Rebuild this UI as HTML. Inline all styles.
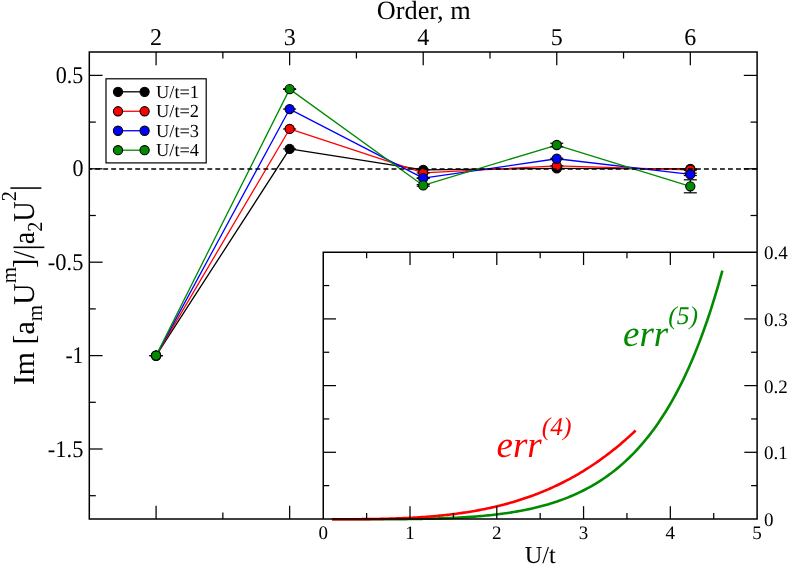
<!DOCTYPE html>
<html><head><meta charset="utf-8"><title>chart</title>
<style>
html,body{margin:0;padding:0;background:#fff;}
svg{display:block;will-change:transform;}
text{font-family:"Liberation Serif",serif;text-rendering:geometricPrecision;}
</style></head><body>
<svg width="789" height="565" viewBox="0 0 789 565">
<rect width="789" height="565" fill="#fff"/>
<polyline fill="none" stroke="#000000" stroke-width="1.3" stroke-linejoin="round" points="156.08,355.60 289.64,148.89 423.20,169.84 556.76,168.43 690.32,168.87"/>
<line x1="156.08" y1="355.60" x2="156.08" y2="355.60" stroke="#000" stroke-width="1.2" />
<line x1="149.58" y1="355.60" x2="162.58" y2="355.60" stroke="#000" stroke-width="1.2" />
<line x1="289.64" y1="148.89" x2="289.64" y2="148.89" stroke="#000" stroke-width="1.2" />
<line x1="283.14" y1="148.89" x2="296.14" y2="148.89" stroke="#000" stroke-width="1.2" />
<line x1="423.20" y1="169.84" x2="423.20" y2="169.84" stroke="#000" stroke-width="1.2" />
<line x1="416.70" y1="169.84" x2="429.70" y2="169.84" stroke="#000" stroke-width="1.2" />
<line x1="556.76" y1="168.43" x2="556.76" y2="168.43" stroke="#000" stroke-width="1.2" />
<line x1="550.26" y1="168.43" x2="563.26" y2="168.43" stroke="#000" stroke-width="1.2" />
<line x1="690.32" y1="168.87" x2="690.32" y2="168.87" stroke="#000" stroke-width="1.2" />
<line x1="683.82" y1="168.87" x2="696.82" y2="168.87" stroke="#000" stroke-width="1.2" />
<circle cx="156.08" cy="355.60" r="4.6" fill="#000000" stroke="#000" stroke-width="1.1"/>
<circle cx="289.64" cy="148.89" r="4.6" fill="#000000" stroke="#000" stroke-width="1.1"/>
<circle cx="423.20" cy="169.84" r="4.6" fill="#000000" stroke="#000" stroke-width="1.1"/>
<circle cx="556.76" cy="168.43" r="4.6" fill="#000000" stroke="#000" stroke-width="1.1"/>
<circle cx="690.32" cy="168.87" r="4.6" fill="#000000" stroke="#000" stroke-width="1.1"/>
<polyline fill="none" stroke="#ff0000" stroke-width="1.3" stroke-linejoin="round" points="156.08,355.60 289.64,128.97 423.20,172.95 556.76,165.83 690.32,169.89"/>
<line x1="156.08" y1="355.60" x2="156.08" y2="355.60" stroke="#000" stroke-width="1.2" />
<line x1="149.58" y1="355.60" x2="162.58" y2="355.60" stroke="#000" stroke-width="1.2" />
<line x1="289.64" y1="128.97" x2="289.64" y2="128.97" stroke="#000" stroke-width="1.2" />
<line x1="283.14" y1="128.97" x2="296.14" y2="128.97" stroke="#000" stroke-width="1.2" />
<line x1="423.20" y1="172.95" x2="423.20" y2="172.95" stroke="#000" stroke-width="1.2" />
<line x1="416.70" y1="172.95" x2="429.70" y2="172.95" stroke="#000" stroke-width="1.2" />
<line x1="556.76" y1="165.83" x2="556.76" y2="165.83" stroke="#000" stroke-width="1.2" />
<line x1="550.26" y1="165.83" x2="563.26" y2="165.83" stroke="#000" stroke-width="1.2" />
<line x1="690.32" y1="169.59" x2="690.32" y2="170.19" stroke="#000" stroke-width="1.2" />
<line x1="683.82" y1="169.59" x2="696.82" y2="169.59" stroke="#000" stroke-width="1.2" />
<line x1="683.82" y1="170.19" x2="696.82" y2="170.19" stroke="#000" stroke-width="1.2" />
<circle cx="156.08" cy="355.60" r="4.6" fill="#ff0000" stroke="#000" stroke-width="1.1"/>
<circle cx="289.64" cy="128.97" r="4.6" fill="#ff0000" stroke="#000" stroke-width="1.1"/>
<circle cx="423.20" cy="172.95" r="4.6" fill="#ff0000" stroke="#000" stroke-width="1.1"/>
<circle cx="556.76" cy="165.83" r="4.6" fill="#ff0000" stroke="#000" stroke-width="1.1"/>
<circle cx="690.32" cy="169.89" r="4.6" fill="#ff0000" stroke="#000" stroke-width="1.1"/>
<polyline fill="none" stroke="#0000ff" stroke-width="1.3" stroke-linejoin="round" points="156.08,355.60 289.64,109.06 423.20,178.15 556.76,158.76 690.32,174.34"/>
<line x1="156.08" y1="355.60" x2="156.08" y2="355.60" stroke="#000" stroke-width="1.2" />
<line x1="149.58" y1="355.60" x2="162.58" y2="355.60" stroke="#000" stroke-width="1.2" />
<line x1="289.64" y1="109.06" x2="289.64" y2="109.06" stroke="#000" stroke-width="1.2" />
<line x1="283.14" y1="109.06" x2="296.14" y2="109.06" stroke="#000" stroke-width="1.2" />
<line x1="423.20" y1="177.85" x2="423.20" y2="178.45" stroke="#000" stroke-width="1.2" />
<line x1="416.70" y1="177.85" x2="429.70" y2="177.85" stroke="#000" stroke-width="1.2" />
<line x1="416.70" y1="178.45" x2="429.70" y2="178.45" stroke="#000" stroke-width="1.2" />
<line x1="556.76" y1="158.26" x2="556.76" y2="159.26" stroke="#000" stroke-width="1.2" />
<line x1="550.26" y1="158.26" x2="563.26" y2="158.26" stroke="#000" stroke-width="1.2" />
<line x1="550.26" y1="159.26" x2="563.26" y2="159.26" stroke="#000" stroke-width="1.2" />
<line x1="690.32" y1="173.14" x2="690.32" y2="175.54" stroke="#000" stroke-width="1.2" />
<line x1="683.82" y1="173.14" x2="696.82" y2="173.14" stroke="#000" stroke-width="1.2" />
<line x1="683.82" y1="175.54" x2="696.82" y2="175.54" stroke="#000" stroke-width="1.2" />
<circle cx="156.08" cy="355.60" r="4.6" fill="#0000ff" stroke="#000" stroke-width="1.1"/>
<circle cx="289.64" cy="109.06" r="4.6" fill="#0000ff" stroke="#000" stroke-width="1.1"/>
<circle cx="423.20" cy="178.15" r="4.6" fill="#0000ff" stroke="#000" stroke-width="1.1"/>
<circle cx="556.76" cy="158.76" r="4.6" fill="#0000ff" stroke="#000" stroke-width="1.1"/>
<circle cx="690.32" cy="174.34" r="4.6" fill="#0000ff" stroke="#000" stroke-width="1.1"/>
<polyline fill="none" stroke="#008b00" stroke-width="1.3" stroke-linejoin="round" points="156.08,355.60 289.64,89.15 423.20,185.42 556.76,145.01 690.32,186.30"/>
<line x1="156.08" y1="355.60" x2="156.08" y2="355.60" stroke="#000" stroke-width="1.2" />
<line x1="149.58" y1="355.60" x2="162.58" y2="355.60" stroke="#000" stroke-width="1.2" />
<line x1="289.64" y1="88.85" x2="289.64" y2="89.45" stroke="#000" stroke-width="1.2" />
<line x1="283.14" y1="88.85" x2="296.14" y2="88.85" stroke="#000" stroke-width="1.2" />
<line x1="283.14" y1="89.45" x2="296.14" y2="89.45" stroke="#000" stroke-width="1.2" />
<line x1="423.20" y1="184.62" x2="423.20" y2="186.22" stroke="#000" stroke-width="1.2" />
<line x1="416.70" y1="184.62" x2="429.70" y2="184.62" stroke="#000" stroke-width="1.2" />
<line x1="416.70" y1="186.22" x2="429.70" y2="186.22" stroke="#000" stroke-width="1.2" />
<line x1="556.76" y1="143.21" x2="556.76" y2="146.81" stroke="#000" stroke-width="1.2" />
<line x1="550.26" y1="143.21" x2="563.26" y2="143.21" stroke="#000" stroke-width="1.2" />
<line x1="550.26" y1="146.81" x2="563.26" y2="146.81" stroke="#000" stroke-width="1.2" />
<line x1="690.32" y1="179.80" x2="690.32" y2="192.80" stroke="#000" stroke-width="1.2" />
<line x1="683.82" y1="179.80" x2="696.82" y2="179.80" stroke="#000" stroke-width="1.2" />
<line x1="683.82" y1="192.80" x2="696.82" y2="192.80" stroke="#000" stroke-width="1.2" />
<circle cx="156.08" cy="355.60" r="4.6" fill="#008b00" stroke="#000" stroke-width="1.1"/>
<circle cx="289.64" cy="89.15" r="4.6" fill="#008b00" stroke="#000" stroke-width="1.1"/>
<circle cx="423.20" cy="185.42" r="4.6" fill="#008b00" stroke="#000" stroke-width="1.1"/>
<circle cx="556.76" cy="145.01" r="4.6" fill="#008b00" stroke="#000" stroke-width="1.1"/>
<circle cx="690.32" cy="186.30" r="4.6" fill="#008b00" stroke="#000" stroke-width="1.1"/>
<line x1="89.30" y1="169.00" x2="757.10" y2="169.00" stroke="#000" stroke-width="1.3" stroke-dasharray="4.9 3.11" stroke-dashoffset="2.13"/>
<line x1="156.08" y1="52.00" x2="156.08" y2="65.30" stroke="#000" stroke-width="1.25" />
<line x1="156.08" y1="519.00" x2="156.08" y2="505.70" stroke="#000" stroke-width="1.25" />
<line x1="222.86" y1="52.00" x2="222.86" y2="58.50" stroke="#000" stroke-width="1.25" />
<line x1="222.86" y1="519.00" x2="222.86" y2="512.50" stroke="#000" stroke-width="1.25" />
<line x1="289.64" y1="52.00" x2="289.64" y2="65.30" stroke="#000" stroke-width="1.25" />
<line x1="289.64" y1="519.00" x2="289.64" y2="505.70" stroke="#000" stroke-width="1.25" />
<line x1="356.42" y1="52.00" x2="356.42" y2="58.50" stroke="#000" stroke-width="1.25" />
<line x1="356.42" y1="519.00" x2="356.42" y2="512.50" stroke="#000" stroke-width="1.25" />
<line x1="423.20" y1="52.00" x2="423.20" y2="65.30" stroke="#000" stroke-width="1.25" />
<line x1="423.20" y1="519.00" x2="423.20" y2="505.70" stroke="#000" stroke-width="1.25" />
<line x1="489.98" y1="52.00" x2="489.98" y2="58.50" stroke="#000" stroke-width="1.25" />
<line x1="489.98" y1="519.00" x2="489.98" y2="512.50" stroke="#000" stroke-width="1.25" />
<line x1="556.76" y1="52.00" x2="556.76" y2="65.30" stroke="#000" stroke-width="1.25" />
<line x1="556.76" y1="519.00" x2="556.76" y2="505.70" stroke="#000" stroke-width="1.25" />
<line x1="623.54" y1="52.00" x2="623.54" y2="58.50" stroke="#000" stroke-width="1.25" />
<line x1="623.54" y1="519.00" x2="623.54" y2="512.50" stroke="#000" stroke-width="1.25" />
<line x1="690.32" y1="52.00" x2="690.32" y2="65.30" stroke="#000" stroke-width="1.25" />
<line x1="690.32" y1="519.00" x2="690.32" y2="505.70" stroke="#000" stroke-width="1.25" />
<line x1="89.30" y1="75.40" x2="102.60" y2="75.40" stroke="#000" stroke-width="1.25" />
<line x1="757.10" y1="75.40" x2="743.80" y2="75.40" stroke="#000" stroke-width="1.25" />
<line x1="89.30" y1="122.10" x2="95.80" y2="122.10" stroke="#000" stroke-width="1.25" />
<line x1="757.10" y1="122.10" x2="750.60" y2="122.10" stroke="#000" stroke-width="1.25" />
<line x1="89.30" y1="168.80" x2="102.60" y2="168.80" stroke="#000" stroke-width="1.25" />
<line x1="757.10" y1="168.80" x2="743.80" y2="168.80" stroke="#000" stroke-width="1.25" />
<line x1="89.30" y1="215.50" x2="95.80" y2="215.50" stroke="#000" stroke-width="1.25" />
<line x1="757.10" y1="215.50" x2="750.60" y2="215.50" stroke="#000" stroke-width="1.25" />
<line x1="89.30" y1="262.20" x2="102.60" y2="262.20" stroke="#000" stroke-width="1.25" />
<line x1="757.10" y1="262.20" x2="743.80" y2="262.20" stroke="#000" stroke-width="1.25" />
<line x1="89.30" y1="308.90" x2="95.80" y2="308.90" stroke="#000" stroke-width="1.25" />
<line x1="757.10" y1="308.90" x2="750.60" y2="308.90" stroke="#000" stroke-width="1.25" />
<line x1="89.30" y1="355.60" x2="102.60" y2="355.60" stroke="#000" stroke-width="1.25" />
<line x1="757.10" y1="355.60" x2="743.80" y2="355.60" stroke="#000" stroke-width="1.25" />
<line x1="89.30" y1="402.30" x2="95.80" y2="402.30" stroke="#000" stroke-width="1.25" />
<line x1="757.10" y1="402.30" x2="750.60" y2="402.30" stroke="#000" stroke-width="1.25" />
<line x1="89.30" y1="449.00" x2="102.60" y2="449.00" stroke="#000" stroke-width="1.25" />
<line x1="757.10" y1="449.00" x2="743.80" y2="449.00" stroke="#000" stroke-width="1.25" />
<line x1="89.30" y1="495.70" x2="95.80" y2="495.70" stroke="#000" stroke-width="1.25" />
<line x1="757.10" y1="495.70" x2="750.60" y2="495.70" stroke="#000" stroke-width="1.25" />
<rect x="323.25" y="252.20" width="433.85" height="266.80" fill="#fff" stroke="none"/>
<polyline fill="none" stroke="#008b00" stroke-width="2.6" stroke-linejoin="round" points="331.93,519.30 333.88,519.30 335.83,519.30 337.78,519.30 339.74,519.30 341.69,519.30 343.64,519.30 345.59,519.30 347.55,519.30 349.50,519.30 351.45,519.30 353.40,519.30 355.35,519.30 357.31,519.29 359.26,519.29 361.21,519.29 363.16,519.29 365.12,519.29 367.07,519.28 369.02,519.28 370.97,519.28 372.93,519.27 374.88,519.27 376.83,519.26 378.78,519.26 380.74,519.25 382.69,519.24 384.64,519.23 386.59,519.23 388.54,519.22 390.50,519.21 392.45,519.19 394.40,519.18 396.35,519.17 398.31,519.15 400.26,519.14 402.21,519.12 404.16,519.10 406.12,519.08 408.07,519.05 410.02,519.03 411.97,519.00 413.92,518.98 415.88,518.95 417.83,518.92 419.78,518.88 421.73,518.85 423.69,518.81 425.64,518.77 427.59,518.72 429.54,518.68 431.50,518.63 433.45,518.58 435.40,518.52 437.35,518.46 439.30,518.40 441.26,518.34 443.21,518.27 445.16,518.20 447.11,518.12 449.07,518.05 451.02,517.96 452.97,517.87 454.92,517.78 456.88,517.69 458.83,517.58 460.78,517.48 462.73,517.37 464.69,517.25 466.64,517.13 468.59,517.00 470.54,516.87 472.49,516.73 474.45,516.59 476.40,516.43 478.35,516.28 480.30,516.11 482.26,515.94 484.21,515.76 486.16,515.58 488.11,515.38 490.07,515.18 492.02,514.97 493.97,514.75 495.92,514.53 497.87,514.29 499.83,514.05 501.78,513.80 503.73,513.53 505.68,513.26 507.64,512.98 509.59,512.69 511.54,512.38 513.49,512.07 515.45,511.74 517.40,511.40 519.35,511.05 521.30,510.69 523.25,510.32 525.21,509.93 527.16,509.53 529.11,509.12 531.06,508.69 533.02,508.25 534.97,507.79 536.92,507.32 538.87,506.83 540.83,506.33 542.78,505.81 544.73,505.27 546.68,504.72 548.64,504.14 550.59,503.55 552.54,502.95 554.49,502.32 556.44,501.67 558.40,501.01 560.35,500.32 562.30,499.61 564.25,498.88 566.21,498.13 568.16,497.35 570.11,496.55 572.06,495.73 574.02,494.89 575.97,494.01 577.92,493.12 579.87,492.19 581.82,491.24 583.78,490.26 585.73,489.26 587.68,488.22 589.63,487.15 591.59,486.06 593.54,484.93 595.49,483.77 597.44,482.57 599.40,481.35 601.35,480.08 603.30,478.79 605.25,477.45 607.20,476.08 609.16,474.67 611.11,473.22 613.06,471.73 615.01,470.19 616.97,468.62 618.92,467.00 620.87,465.34 622.82,463.63 624.78,461.87 626.73,460.06 628.68,458.21 630.63,456.30 632.59,454.34 634.54,452.33 636.49,450.26 638.44,448.14 640.39,445.95 642.35,443.71 644.30,441.40 646.25,439.04 648.20,436.60 650.16,434.10 652.11,431.53 654.06,428.90 656.01,426.18 657.97,423.40 659.92,420.53 661.87,417.59 663.82,414.57 665.77,411.46 667.73,408.27 669.68,404.99 671.63,401.62 673.58,398.15 675.54,394.59 677.49,390.93 679.44,387.16 681.39,383.29 683.35,379.32 685.30,375.23 687.25,371.02 689.20,366.69 691.15,362.25 693.11,357.67 695.06,352.96 697.01,348.12 698.96,343.14 700.92,338.02 702.87,332.74 704.82,327.31 706.77,321.72 708.73,315.97 710.68,310.05 712.63,303.95 714.58,297.67 716.54,291.20 718.49,284.53 720.44,277.66 722.39,270.58"/>
<polyline fill="none" stroke="#ff0000" stroke-width="2.6" stroke-linejoin="round" points="331.93,519.30 333.45,519.30 334.96,519.30 336.48,519.30 338.00,519.29 339.52,519.29 341.04,519.29 342.56,519.29 344.07,519.28 345.59,519.28 347.11,519.27 348.63,519.27 350.15,519.26 351.67,519.25 353.19,519.24 354.70,519.24 356.22,519.23 357.74,519.21 359.26,519.20 360.78,519.19 362.30,519.17 363.81,519.16 365.33,519.14 366.85,519.12 368.37,519.11 369.89,519.08 371.41,519.06 372.93,519.04 374.44,519.01 375.96,518.99 377.48,518.96 379.00,518.93 380.52,518.90 382.04,518.86 383.56,518.83 385.07,518.79 386.59,518.75 388.11,518.71 389.63,518.66 391.15,518.62 392.67,518.57 394.18,518.52 395.70,518.47 397.22,518.41 398.74,518.36 400.26,518.30 401.78,518.23 403.30,518.17 404.81,518.10 406.33,518.03 407.85,517.96 409.37,517.88 410.89,517.80 412.41,517.72 413.92,517.63 415.44,517.54 416.96,517.45 418.48,517.36 420.00,517.26 421.52,517.16 423.04,517.05 424.55,516.94 426.07,516.83 427.59,516.71 429.11,516.60 430.63,516.47 432.15,516.34 433.66,516.21 435.18,516.08 436.70,515.94 438.22,515.80 439.74,515.65 441.26,515.50 442.78,515.34 444.29,515.18 445.81,515.02 447.33,514.85 448.85,514.67 450.37,514.49 451.89,514.31 453.41,514.12 454.92,513.93 456.44,513.73 457.96,513.53 459.48,513.32 461.00,513.10 462.52,512.89 464.03,512.66 465.55,512.43 467.07,512.20 468.59,511.95 470.11,511.71 471.63,511.46 473.15,511.20 474.66,510.93 476.18,510.66 477.70,510.39 479.22,510.10 480.74,509.82 482.26,509.52 483.77,509.22 485.29,508.91 486.81,508.60 488.33,508.28 489.85,507.95 491.37,507.61 492.89,507.27 494.40,506.92 495.92,506.57 497.44,506.20 498.96,505.83 500.48,505.46 502.00,505.07 503.51,504.68 505.03,504.28 506.55,503.87 508.07,503.46 509.59,503.03 511.11,502.60 512.63,502.16 514.14,501.71 515.66,501.26 517.18,500.79 518.70,500.32 520.22,499.84 521.74,499.35 523.25,498.85 524.77,498.34 526.29,497.83 527.81,497.30 529.33,496.77 530.85,496.22 532.37,495.67 533.88,495.11 535.40,494.54 536.92,493.96 538.44,493.36 539.96,492.76 541.48,492.15 543.00,491.53 544.51,490.90 546.03,490.26 547.55,489.61 549.07,488.95 550.59,488.27 552.11,487.59 553.62,486.90 555.14,486.19 556.66,485.48 558.18,484.75 559.70,484.02 561.22,483.27 562.74,482.51 564.25,481.74 565.77,480.95 567.29,480.16 568.81,479.35 570.33,478.53 571.85,477.70 573.36,476.86 574.88,476.01 576.40,475.14 577.92,474.26 579.44,473.37 580.96,472.46 582.48,471.55 583.99,470.62 585.51,469.67 587.03,468.72 588.55,467.75 590.07,466.76 591.59,465.77 593.10,464.76 594.62,463.74 596.14,462.70 597.66,461.65 599.18,460.58 600.70,459.50 602.22,458.41 603.73,457.30 605.25,456.18 606.77,455.04 608.29,453.89 609.81,452.72 611.33,451.54 612.84,450.34 614.36,449.13 615.88,447.91 617.40,446.66 618.92,445.40 620.44,444.13 621.96,442.84 623.47,441.53 624.99,440.21 626.51,438.87 628.03,437.52 629.55,436.15 631.07,434.76 632.59,433.36 634.10,431.94 635.62,430.50"/>
<line x1="366.63" y1="252.20" x2="366.63" y2="258.20" stroke="#000" stroke-width="1.25" />
<line x1="366.63" y1="519.00" x2="366.63" y2="513.00" stroke="#000" stroke-width="1.25" />
<line x1="410.02" y1="252.20" x2="410.02" y2="265.00" stroke="#000" stroke-width="1.25" />
<line x1="410.02" y1="519.00" x2="410.02" y2="506.20" stroke="#000" stroke-width="1.25" />
<line x1="453.41" y1="252.20" x2="453.41" y2="258.20" stroke="#000" stroke-width="1.25" />
<line x1="453.41" y1="519.00" x2="453.41" y2="513.00" stroke="#000" stroke-width="1.25" />
<line x1="496.79" y1="252.20" x2="496.79" y2="265.00" stroke="#000" stroke-width="1.25" />
<line x1="496.79" y1="519.00" x2="496.79" y2="506.20" stroke="#000" stroke-width="1.25" />
<line x1="540.17" y1="252.20" x2="540.17" y2="258.20" stroke="#000" stroke-width="1.25" />
<line x1="540.17" y1="519.00" x2="540.17" y2="513.00" stroke="#000" stroke-width="1.25" />
<line x1="583.56" y1="252.20" x2="583.56" y2="265.00" stroke="#000" stroke-width="1.25" />
<line x1="583.56" y1="519.00" x2="583.56" y2="506.20" stroke="#000" stroke-width="1.25" />
<line x1="626.95" y1="252.20" x2="626.95" y2="258.20" stroke="#000" stroke-width="1.25" />
<line x1="626.95" y1="519.00" x2="626.95" y2="513.00" stroke="#000" stroke-width="1.25" />
<line x1="670.33" y1="252.20" x2="670.33" y2="265.00" stroke="#000" stroke-width="1.25" />
<line x1="670.33" y1="519.00" x2="670.33" y2="506.20" stroke="#000" stroke-width="1.25" />
<line x1="713.72" y1="252.20" x2="713.72" y2="258.20" stroke="#000" stroke-width="1.25" />
<line x1="713.72" y1="519.00" x2="713.72" y2="513.00" stroke="#000" stroke-width="1.25" />
<line x1="323.25" y1="485.65" x2="329.25" y2="485.65" stroke="#000" stroke-width="1.25" />
<line x1="757.10" y1="485.65" x2="751.10" y2="485.65" stroke="#000" stroke-width="1.25" />
<line x1="323.25" y1="452.30" x2="336.05" y2="452.30" stroke="#000" stroke-width="1.25" />
<line x1="757.10" y1="452.30" x2="744.30" y2="452.30" stroke="#000" stroke-width="1.25" />
<line x1="323.25" y1="418.95" x2="329.25" y2="418.95" stroke="#000" stroke-width="1.25" />
<line x1="757.10" y1="418.95" x2="751.10" y2="418.95" stroke="#000" stroke-width="1.25" />
<line x1="323.25" y1="385.60" x2="336.05" y2="385.60" stroke="#000" stroke-width="1.25" />
<line x1="757.10" y1="385.60" x2="744.30" y2="385.60" stroke="#000" stroke-width="1.25" />
<line x1="323.25" y1="352.25" x2="329.25" y2="352.25" stroke="#000" stroke-width="1.25" />
<line x1="757.10" y1="352.25" x2="751.10" y2="352.25" stroke="#000" stroke-width="1.25" />
<line x1="323.25" y1="318.90" x2="336.05" y2="318.90" stroke="#000" stroke-width="1.25" />
<line x1="757.10" y1="318.90" x2="744.30" y2="318.90" stroke="#000" stroke-width="1.25" />
<line x1="323.25" y1="285.55" x2="329.25" y2="285.55" stroke="#000" stroke-width="1.25" />
<line x1="757.10" y1="285.55" x2="751.10" y2="285.55" stroke="#000" stroke-width="1.25" />
<polyline points="323.25,519.00 323.25,252.20 757.10,252.20" fill="none" stroke="#000" stroke-width="1.5" stroke-linejoin="miter"/>
<rect x="89.30" y="52.00" width="667.80" height="467.00" fill="none" stroke="#000" stroke-width="1.5"/>
<rect x="106.0" y="78.8" width="100.2" height="84.1" fill="#fff" stroke="#000" stroke-width="1.2"/>
<line x1="118.00" y1="91.80" x2="144.60" y2="91.80" stroke="#000000" stroke-width="1.3" />
<circle cx="118.0" cy="91.80" r="4.6" fill="#000000" stroke="#000" stroke-width="1.1"/>
<circle cx="144.6" cy="91.80" r="4.6" fill="#000000" stroke="#000" stroke-width="1.1"/>
<text x="156.0" y="97.70" font-size="18.4">U/t=1</text>
<line x1="118.00" y1="111.27" x2="144.60" y2="111.27" stroke="#ff0000" stroke-width="1.3" />
<circle cx="118.0" cy="111.27" r="4.6" fill="#ff0000" stroke="#000" stroke-width="1.1"/>
<circle cx="144.6" cy="111.27" r="4.6" fill="#ff0000" stroke="#000" stroke-width="1.1"/>
<text x="156.0" y="117.17" font-size="18.4">U/t=2</text>
<line x1="118.00" y1="130.74" x2="144.60" y2="130.74" stroke="#0000ff" stroke-width="1.3" />
<circle cx="118.0" cy="130.74" r="4.6" fill="#0000ff" stroke="#000" stroke-width="1.1"/>
<circle cx="144.6" cy="130.74" r="4.6" fill="#0000ff" stroke="#000" stroke-width="1.1"/>
<text x="156.0" y="136.64" font-size="18.4">U/t=3</text>
<line x1="118.00" y1="150.21" x2="144.60" y2="150.21" stroke="#008b00" stroke-width="1.3" />
<circle cx="118.0" cy="150.21" r="4.6" fill="#008b00" stroke="#000" stroke-width="1.1"/>
<circle cx="144.6" cy="150.21" r="4.6" fill="#008b00" stroke="#000" stroke-width="1.1"/>
<text x="156.0" y="156.11" font-size="18.4">U/t=4</text>
<text x="156.08" y="45.30" font-size="24" text-anchor="middle" >2</text>
<text x="289.64" y="45.30" font-size="24" text-anchor="middle" >3</text>
<text x="423.20" y="45.30" font-size="24" text-anchor="middle" >4</text>
<text x="556.76" y="45.30" font-size="24" text-anchor="middle" >5</text>
<text x="690.32" y="45.30" font-size="24" text-anchor="middle" >6</text>
<text x="423.70" y="18.80" font-size="26.3" text-anchor="middle" >Order, m</text>
<text x="83.40" y="82.90" font-size="24" text-anchor="end" textLength="27.6" lengthAdjust="spacingAndGlyphs">0.5</text>
<text x="83.40" y="176.30" font-size="24" text-anchor="end" textLength="11.0" lengthAdjust="spacingAndGlyphs">0</text>
<text x="83.40" y="269.70" font-size="24" text-anchor="end" textLength="35.6" lengthAdjust="spacingAndGlyphs">-0.5</text>
<text x="83.40" y="363.10" font-size="24" text-anchor="end" textLength="18.0" lengthAdjust="spacingAndGlyphs">-1</text>
<text x="83.40" y="456.50" font-size="24" text-anchor="end" textLength="35.6" lengthAdjust="spacingAndGlyphs">-1.5</text>
<text x="323.25" y="538.50" font-size="19" text-anchor="middle" >0</text>
<text x="410.02" y="538.50" font-size="19" text-anchor="middle" >1</text>
<text x="496.79" y="538.50" font-size="19" text-anchor="middle" >2</text>
<text x="583.56" y="538.50" font-size="19" text-anchor="middle" >3</text>
<text x="670.33" y="538.50" font-size="19" text-anchor="middle" >4</text>
<text x="757.10" y="538.50" font-size="19" text-anchor="middle" >5</text>
<text x="763.90" y="525.90" font-size="19" text-anchor="start" >0</text>
<text x="763.90" y="459.20" font-size="19" text-anchor="start" >0.1</text>
<text x="763.90" y="392.50" font-size="19" text-anchor="start" >0.2</text>
<text x="763.90" y="325.80" font-size="19" text-anchor="start" >0.3</text>
<text x="763.90" y="259.10" font-size="19" text-anchor="start" >0.4</text>
<text x="540.17" y="562.50" font-size="24.3" text-anchor="middle" >U/t</text>
<text x="623.0" y="345.7" font-size="37" font-style="italic" fill="#008b00">err<tspan font-size="25.5" dy="-22.1">(5)</tspan></text>
<text x="496.5" y="456.7" font-size="37" font-style="italic" fill="#ff0000">err<tspan font-size="25.5" dy="-22.1">(4)</tspan></text>
<text transform="translate(34,385.1) rotate(-90) scale(0.985,1)" font-size="30.3">Im [a<tspan font-size="21.42" dy="7.58">m</tspan><tspan dy="-7.58">U</tspan><tspan font-size="21.42" dy="-17.73">m</tspan></text><text transform="translate(34,267.9) rotate(-90) scale(0.934,1)" font-size="30.3">]/<tspan font-size="34.0" dy="2.7">|</tspan><tspan dy="-2.7">a</tspan><tspan font-size="21.42" dy="7.58">2</tspan><tspan dy="-7.58">U</tspan><tspan font-size="21.42" dy="-17.73">2</tspan><tspan dy="17.73" font-size="34.0">|</tspan></text>
</svg>
</body></html>
